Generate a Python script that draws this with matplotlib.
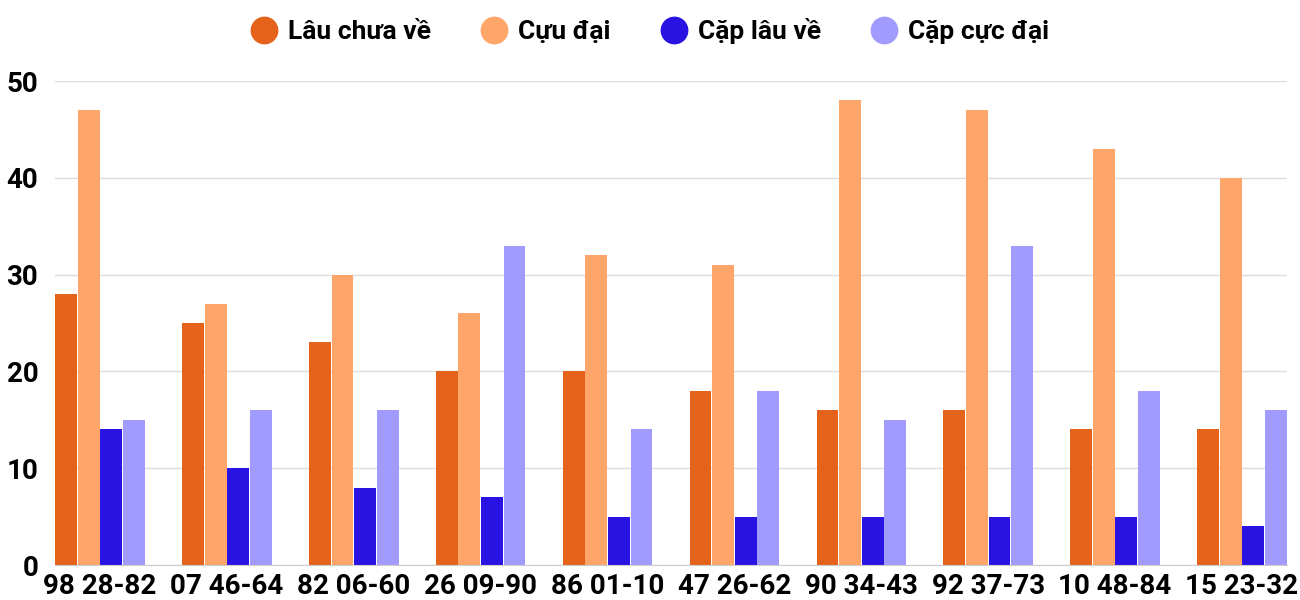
import numpy as np
import matplotlib
matplotlib.use('Agg')
import matplotlib.pyplot as plt
from matplotlib.lines import Line2D

plt.rcParams['font.family'] = ['Roboto', 'DejaVu Sans']

# Daten
categories = ["98 28-82", "07 46-64", "82 06-60", "26 09-90", "86 01-10",
              "47 26-62", "90 34-43", "92 37-73", "10 48-84", "15 23-32"]
series_names = ["Lâu chưa về", "Cựu đại", "Cặp lâu về", "Cặp cực đại"]
lau_chua_ve = [28, 25, 23, 20, 20, 18, 16, 16, 14, 14]
cuu_dai = [47, 27, 30, 26, 32, 31, 48, 47, 43, 40]
cap_lau_ve = [14, 10, 8, 7, 5, 5, 5, 5, 5, 4]
cap_cuc_dai = [15, 16, 16, 33, 14, 18, 15, 33, 18, 16]
colors = ["#E4621A", "#FFA569", "#2813E3", "#A29BFE"]

fig = plt.figure(figsize=(13, 6), dpi=100)
ax = fig.add_axes([55/1300, 1-565/600, (1287-55)/1300, (565-81)/600])

x = np.arange(len(categories))
step = 0.178
width = 0.172
for i, (vals, col) in enumerate(zip([lau_chua_ve, cuu_dai, cap_lau_ve, cap_cuc_dai], colors)):
    ax.bar(x + (i - 1.5) * step, vals, width, color=col, zorder=3)

ax.set_xlim(-0.355, 9.355)
ax.set_ylim(0, 50)
ax.set_yticks([0, 10, 20, 30, 40, 50])
ax.grid(axis='y', color='#DDDDDD', linewidth=1, zorder=0)
for s in ['top', 'right', 'left']:
    ax.spines[s].set_visible(False)
ax.spines['bottom'].set_color('#CCCCCC')
ax.spines['bottom'].set_zorder(4)
ax.set_xticks(x)
ax.set_xticklabels(categories)
ax.tick_params(axis='both', length=0, labelsize=20)
ax.tick_params(axis='x', pad=6)
ax.tick_params(axis='y', pad=12)
for lab in ax.get_xticklabels() + ax.get_yticklabels():
    lab.set_fontweight('bold')

handles = [Line2D([0], [0], marker='o', linestyle='', markersize=19,
                  markerfacecolor=c, markeredgecolor=c) for c in colors]
fig.legend(handles, series_names, loc='center', bbox_to_anchor=(0.5, 1-31/600),
           ncol=4, frameon=False, prop={'weight': 'bold', 'size': 19},
           handlelength=1.0, handletextpad=0.4, columnspacing=1.9)

fig.savefig("out.png", dpi=100)
